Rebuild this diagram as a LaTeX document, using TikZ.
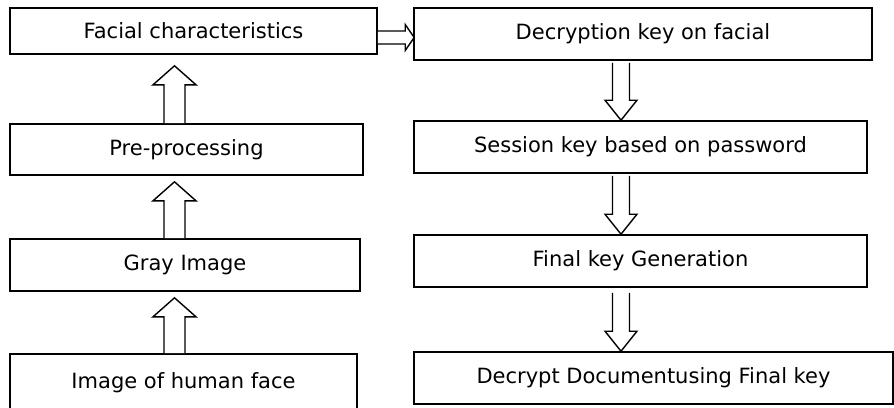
\documentclass[tikz,border=0pt]{standalone}
\usepackage{fontspec}
\setmainfont{DejaVu Sans}
\usetikzlibrary{calc}
\tikzset{
  box/.style={draw=black, line width=1.6pt, rectangle, inner sep=0pt, font=\fontsize{21}{24}\selectfont},
  arrowline/.style={draw=black, line width=1.4pt, fill=white, line join=miter},
}
% #1 start, #2 tip, #3 head length (signed), #4 shaft half width, #5 head half width
\newcommand{\vblockarrow}[5]{%
  \draw[arrowline] let \p1=(#1), \p2=(#2) in
    (\x1-#4,\y1) -- (\x1-#4,\y2+#3) -- (\x1-#5,\y2+#3) -- (\x1,\y2) --
    (\x1+#5,\y2+#3) -- (\x1+#4,\y2+#3) -- (\x1+#4,\y1);}
\begin{document}
\begin{tikzpicture}[x=1pt,y=-1pt]
\useasboundingbox (0,0) rectangle (894,407);
% left column
\node[box, minimum width=367pt, minimum height=46pt] (fc) at (193.5,31) {Facial characteristics};
\node[box, minimum width=353pt, minimum height=51pt] (pp) at (186.5,149.5) {Pre-processing};
\node[box, minimum width=350pt, minimum height=52pt] (gi) at (185,265) {Gray Image};
\node[box, minimum width=347pt, minimum height=58pt] (ih) at (183.5,383) {Image of human face};
% right column
\node[box, minimum width=458pt, minimum height=52pt] (dk) at (643,34) {Decryption key on facial};
\node[box, minimum width=453pt, minimum height=52pt] (sk) at (640.5,147) {Session key based on password};
\node[box, minimum width=453pt, minimum height=52pt] (fk) at (640.5,261) {Final key Generation};
\node[box, minimum width=479pt, minimum height=52pt] (dd) at (653.5,378) {Decrypt Documentusing Final key};
% axis coordinates for arrows
\coordinate (L) at (174.5,0);
\coordinate (R) at (621,0);
% left up arrows
\vblockarrow{pp.north -| L}{$(fc.south -| L)+(0,11)$}{-19pt}{10.5pt}{21.5pt}
\vblockarrow{gi.north -| L}{$(pp.south -| L)+(0,6)$}{-19pt}{10.5pt}{21.5pt}
\vblockarrow{ih.north -| L}{$(gi.south -| L)+(0,6)$}{-19pt}{10.5pt}{21.5pt}
% right down arrows
\vblockarrow{$(dk.south -| R)+(0,2)$}{sk.north -| R}{20pt}{8.5pt}{16pt}
\vblockarrow{$(sk.south -| R)+(0,2)$}{fk.north -| R}{20pt}{8.5pt}{16pt}
\vblockarrow{$(fk.south -| R)+(0,5)$}{dd.north -| R}{20pt}{8.5pt}{16pt}
% horizontal arrow
\draw[arrowline] let \p1=($(fc.east)+(0,6.5)$), \p2=($(dk.west)+(1,3.5)$) in
  (\x1,\y1+6.5pt) -- (\x2-9pt,\y1+6.5pt) -- (\x2-9pt,\y1+13pt) -- (\x2,\y1) --
  (\x2-9pt,\y1-13pt) -- (\x2-9pt,\y1-6.5pt) -- (\x1,\y1-6.5pt);
\end{tikzpicture}
\end{document}
